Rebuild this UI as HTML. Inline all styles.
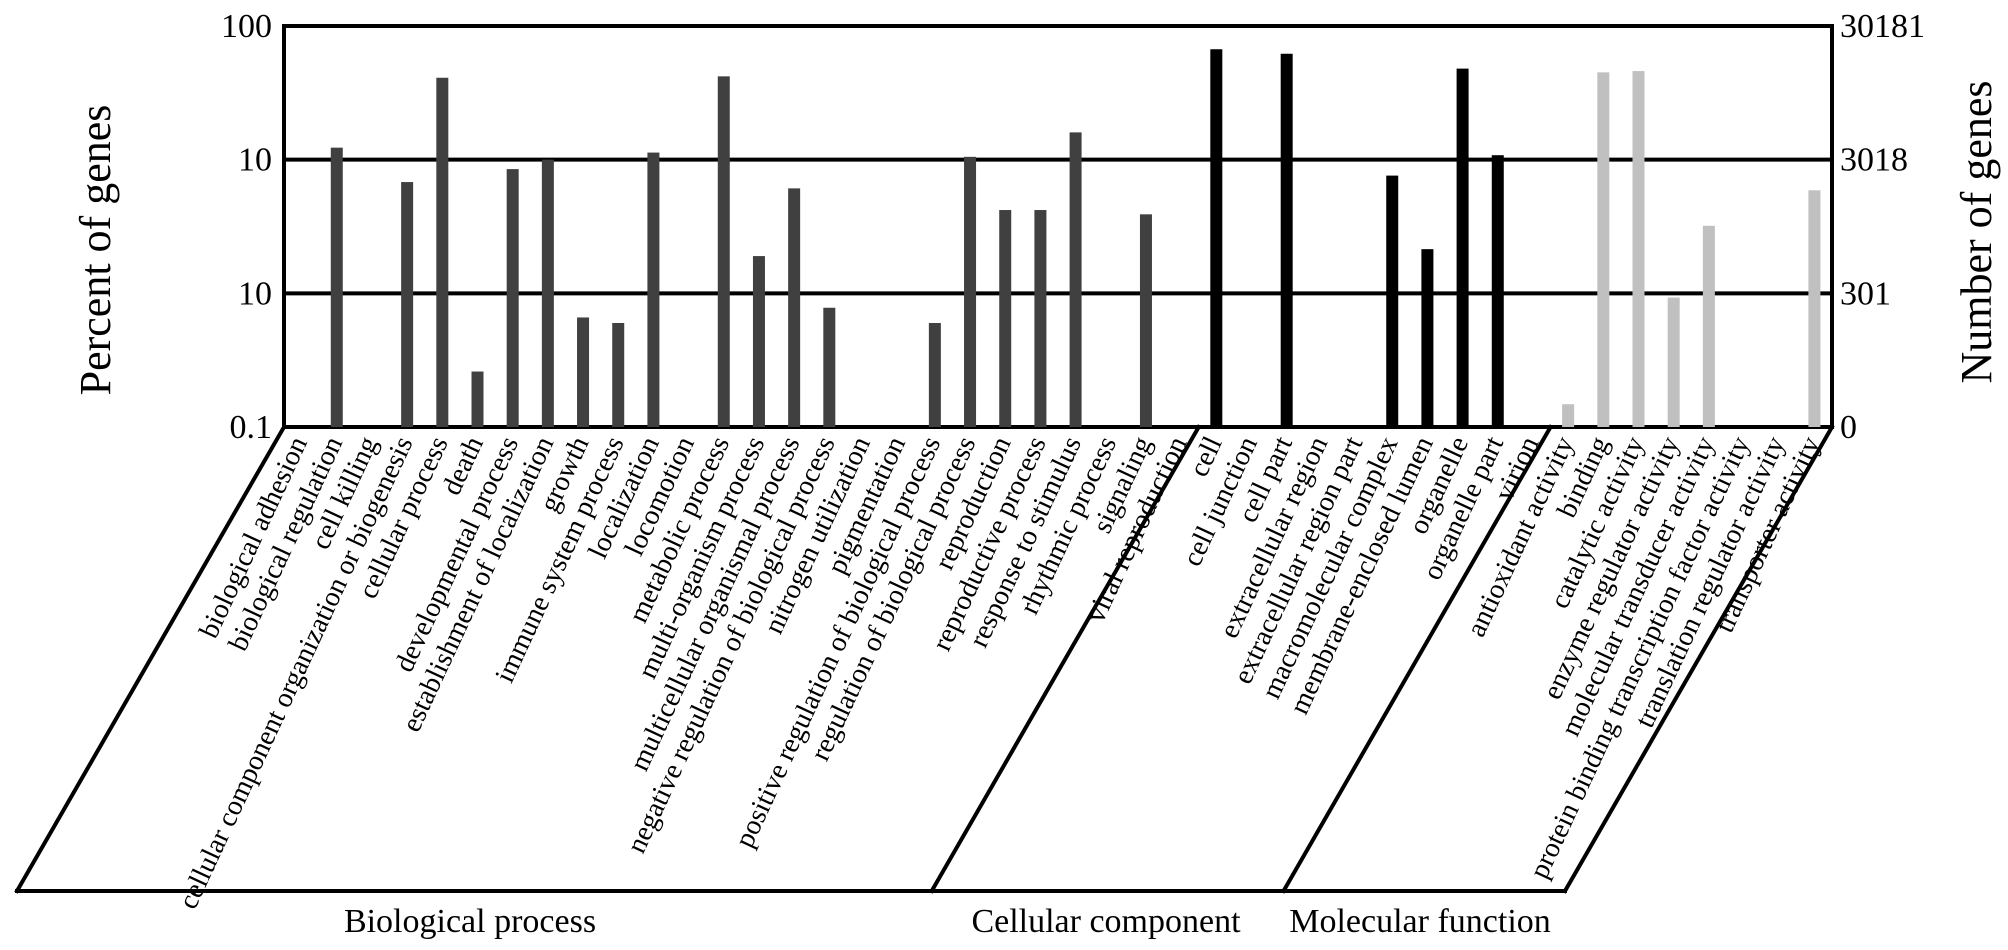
<!DOCTYPE html>
<html><head><meta charset="utf-8"><style>
html,body{margin:0;padding:0;background:#fff;}
svg{display:block;font-family:"Liberation Serif",serif;}
</style></head><body>
<svg id="chart" width="2008" height="950" viewBox="0 0 2008 950" xmlns="http://www.w3.org/2000/svg">
<g id="grid"></g>
<g id="bars"></g>
<g id="frame"></g>
<g id="labels"></g>
<text transform="translate(110,250) rotate(-90)" text-anchor="middle" font-size="44">Percent of genes</text>
<text transform="translate(1991,232) rotate(-90)" text-anchor="middle" font-size="44">Number of genes</text>
<text x="470" y="932" text-anchor="middle" font-size="34">Biological process</text>
<text x="1106" y="932" text-anchor="middle" font-size="34">Cellular component</text>
<text x="1420" y="932" text-anchor="middle" font-size="34">Molecular function</text>
</svg>
<script>
const categories = ["biological adhesion","biological regulation","cell killing","cellular component organization or biogenesis","cellular process","death","developmental process","establishment of localization","growth","immune system process","localization","locomotion","metabolic process","multi-organism process","multicellular organismal process","negative regulation of biological process","nitrogen utilization","pigmentation","positive regulation of biological process","regulation of biological process","reproduction","reproductive process","response to stimulus","rhythmic process","signaling","viral reproduction",
"cell","cell junction","cell part","extracellular region","extracellular region part","macromolecular complex","membrane-enclosed lumen","organelle","organelle part","virion",
"antioxidant activity","binding","catalytic activity","enzyme regulator activity","molecular transducer activity","protein binding transcription factor activity","translation regulator activity","transporter activity"];
const groups = ["BP","BP","BP","BP","BP","BP","BP","BP","BP","BP","BP","BP","BP","BP","BP","BP","BP","BP","BP","BP","BP","BP","BP","BP","BP","BP",
"CC","CC","CC","CC","CC","CC","CC","CC","CC","CC",
"MF","MF","MF","MF","MF","MF","MF","MF"];
const percentValues = [0,12.3,0,6.8,41,0.26,8.5,10,0.66,0.6,11.3,0,42,1.9,6.1,0.78,0,0,0.6,10.5,4.2,4.2,16,0,3.9,0,
67,0,62,0,0,7.6,2.14,48,10.8,0,
0.148,45,46,0.93,3.2,0,0,5.9];
const leftTicks = ["100","10","10","0.1"];
const rightTicks = ["30181","3018","301","0"];
const tickValues = [100,10,1,0.1];

const NS="http://www.w3.org/2000/svg";
const X0=284, X1=1832, YT=26, YB=427;
const n=categories.length, step=(X1-X0)/n;
function xScale(i){return X0+(i+0.5)*step;}
function yScale(v){return YB-(Math.log10(v)+1)/3*(YB-YT);}
function mk(tag,attrs,parent){const e=document.createElementNS(NS,tag);for(const k in attrs)e.setAttribute(k,attrs[k]);parent.appendChild(e);return e;}
const grid=document.getElementById('grid'),bars=document.getElementById('bars'),frame=document.getElementById('frame'),labels=document.getElementById('labels'),svg=document.getElementById('chart');
tickValues.forEach((t,k)=>{
  const y=yScale(t);
  const l=mk('line',{x1:X0,x2:X1,y1:y,y2:y,stroke:'#000','stroke-width':4},grid);
  
  
  const a=mk('text',{x:X0-12,y:y+11,'text-anchor':'end','font-size':34},svg);
  a.textContent=leftTicks[k];
  
  
  const b=mk('text',{x:X1+8,y:y+11,'text-anchor':'start','font-size':34},svg);
  b.textContent=rightTicks[k];
  
  
});
const colors={BP:'#404040',CC:'#000',MF:'#c0c0c0'};
percentValues.forEach((v,i)=>{
  if(v>0){
    const y=yScale(v),w=12;
    const r=mk('rect',{x:xScale(i)-w/2,y:y,width:w,height:YB-y,fill:colors[groups[i]]},bars);
    
    
  }
  const tx=xScale(i)+6, ty=442;
  const t=mk('text',{transform:`translate(${tx},${ty}) rotate(-65)`,'text-anchor':'end','font-size':28},labels);
  t.textContent=categories[i];
  
  
});
const dxs=-267, yBot=891;
function ln(x1,y1,x2,y2,name){const l=mk('line',{x1:x1,y1:y1,x2:x2,y2:y2,stroke:'#000','stroke-width':4,'stroke-linecap':'square'},frame);}
ln(X0,YT,X0,YB,'left-axis');
ln(X1,YT,X1,YB,'right-axis');
const xCC=X0+26*step, xMF=X0+36*step;
ln(X0,YB,X0+dxs,yBot,'bp-left-edge');
ln(xCC,YB,xCC+dxs,yBot,'bp-cc-divider');
ln(xMF,YB,xMF+dxs,yBot,'cc-mf-divider');
ln(X1,YB,X1+dxs,yBot,'mf-right-edge');
ln(X0+dxs,yBot,X1+dxs,yBot,'bottom-baseline');
</script>
</body></html>
